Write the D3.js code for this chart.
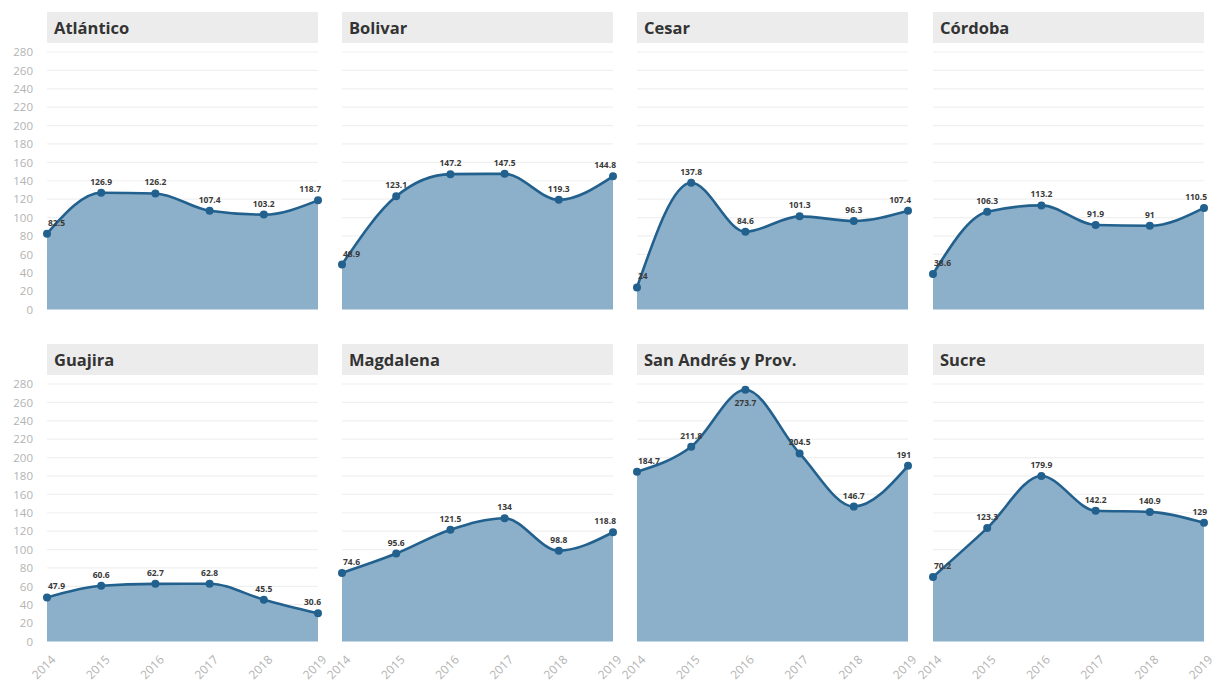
<!DOCTYPE html>
<html>
<head>
<meta charset="utf-8">
<script src="https://cdn.jsdelivr.net/npm/d3@7"></script>
<style>
  html, body { margin: 0; padding: 0; background: #ffffff; }
  svg { display: block; }
</style>
</head>
<body>
<svg id="chart" width="1217" height="682"></svg>
<script>
// Years on the x axis and y tick values
const years = ["2014", "2015", "2016", "2017", "2018", "2019"];
const yTicks = [0, 20, 40, 60, 80, 100, 120, 140, 160, 180, 200, 220, 240, 260, 280];

// Departments, one small multiple each
const departamentos = ["Atlántico", "Bolivar", "Cesar", "Córdoba",
                       "Guajira", "Magdalena", "San Andrés y Prov.", "Sucre"];

// Yearly values per department
const atlantico  = [82.5, 126.9, 126.2, 107.4, 103.2, 118.7];
const bolivar    = [48.9, 123.1, 147.2, 147.5, 119.3, 144.8];
const cesar      = [24, 137.8, 84.6, 101.3, 96.3, 107.4];
const cordoba    = [38.6, 106.3, 113.2, 91.9, 91, 110.5];
const guajira    = [47.9, 60.6, 62.7, 62.8, 45.5, 30.6];
const magdalena  = [74.6, 95.6, 121.5, 134, 98.8, 118.8];
const sanAndres  = [184.7, 211.8, 273.7, 204.5, 146.7, 191];
const sucre      = [70.2, 123.3, 179.9, 142.2, 140.9, 129];

const series = [atlantico, bolivar, cesar, cordoba, guajira, magdalena, sanAndres, sucre];

// Layout of the 4 x 2 grid
const colX = [47, 342, 637, 933];
const panelW = 271;
const rowTitleY = [12, 344];
const rowPlotTop = [52, 384];
const plotH = 257.5;
const titleH = 31;

const fillColor = "#8cb0ca";
const lineColor = "#22608d";

const svg = d3.select("#chart");

departamentos.forEach((name, i) => {
  const col = i % 4, row = Math.floor(i / 4);
  const values = series[i];
  const data = years.map((y, k) => ({ year: y, value: values[k] }));

  const x = d3.scalePoint().domain(years).range([0, panelW]);
  const y = d3.scaleLinear().domain([0, 280]).range([plotH, 0]);

  const g = svg.append("g")
    .attr("transform", `translate(${colX[col]},${rowPlotTop[row]})`);

  // Title strip
  const t = svg.append("g")
    .attr("transform", `translate(${colX[col]},${rowTitleY[row]})`);
  t.append("rect")
    .attr("width", panelW).attr("height", titleH)
    .attr("fill", "#ececec");
  t.append("text")
    .attr("x", 7).attr("y", titleH / 2 + 6)
    .attr("font-family", "'Open Sans', sans-serif")
    .attr("font-weight", 700)
    .attr("font-size", 16.5)
    .attr("fill", "#333")
    .text(name);

  // Horizontal gridlines
  g.append("g")
    .selectAll("line")
    .data(yTicks.filter(v => v > 0))
    .join("line")
    .attr("x1", 0).attr("x2", panelW)
    .attr("y1", d => y(d)).attr("y2", d => y(d))
    .attr("stroke", "#f0f0f0")
    .attr("stroke-width", 1.2);

  // Y axis labels on the first column only
  if (col === 0) {
    const ya = g.append("g")
      .attr("transform", "translate(-12,0)")
      .call(d3.axisLeft(y).tickValues(yTicks).tickSize(0).tickPadding(2));
    ya.select(".domain").remove();
    ya.selectAll("text")
      .attr("font-family", "'Open Sans', sans-serif")
      .attr("font-size", 11.5)
      .attr("fill", "#b3b3b3");
  }

  // X axis labels on the bottom row only, slanted
  if (row === 1) {
    const xa = g.append("g")
      .attr("transform", `translate(0,${plotH})`)
      .call(d3.axisBottom(x).tickSize(0).tickPadding(0));
    xa.select(".domain").remove();
    xa.selectAll("text")
      .attr("font-family", "'Open Sans', sans-serif")
      .attr("font-size", 12)
      .attr("fill", "#b3b3b3")
      .attr("text-anchor", "end")
      .attr("y", 0)
      .attr("dy", "0.35em")
      .attr("transform", "translate(6,16) rotate(-45)");
  }

  const curve = d3.curveMonotoneX;

  // Filled area
  g.append("path")
    .datum(data)
    .attr("fill", fillColor)
    .attr("d", d3.area().x(d => x(d.year)).y0(y(0)).y1(d => y(d.value)).curve(curve));

  // Line on top
  g.append("path")
    .datum(data)
    .attr("fill", "none")
    .attr("stroke", lineColor)
    .attr("stroke-width", 2.6)
    .attr("d", d3.line().x(d => x(d.year)).y(d => y(d.value)).curve(curve));

  // Markers
  g.append("g")
    .selectAll("circle")
    .data(data)
    .join("circle")
    .attr("cx", d => x(d.year))
    .attr("cy", d => y(d.value))
    .attr("r", 4)
    .attr("fill", lineColor);

  // Value labels
  g.append("g")
    .selectAll("text")
    .data(data)
    .join("text")
    .attr("x", (d, k) => x(d.year) + (k === 0 ? 1 : (k === data.length - 1 ? 3 : 0)))
    .attr("y", d => d.value > 262 ? y(d.value) + 16 : y(d.value) - 8)
    .attr("text-anchor", (d, k) => k === 0 ? "start" : (k === data.length - 1 ? "end" : "middle"))
    .attr("font-family", "'Open Sans', sans-serif")
    .attr("font-weight", 700)
    .attr("font-size", 8.5)
    .attr("fill", "#3a3a3a")
    .text(d => String(d.value));
});
</script>
</body>
</html>
